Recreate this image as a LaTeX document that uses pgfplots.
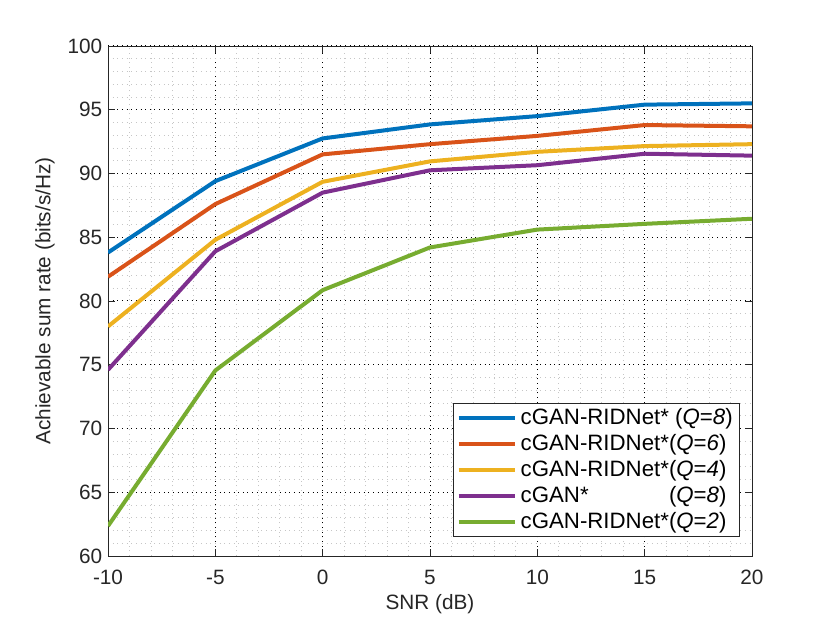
\documentclass[border=0pt]{standalone}
\usepackage{pgfplots}
\pgfplotsset{compat=1.18}
\usepackage{fontspec}
\setmainfont{Liberation Sans}
\definecolor{c1}{rgb}{0,0.447,0.741}
\definecolor{c2}{rgb}{0.850,0.325,0.098}
\definecolor{c3}{rgb}{0.929,0.694,0.125}
\definecolor{c4}{rgb}{0.494,0.184,0.556}
\definecolor{c5}{rgb}{0.466,0.674,0.188}
\definecolor{axgray}{rgb}{0.15,0.15,0.15}
\begin{document}
\begin{tikzpicture}
\path[use as bounding box] (0,0) rectangle (498bp,373.8bp);
\begin{axis}[
  at={(64.8bp,40.2bp)}, anchor=south west,
  scale only axis, width=386.4bp, height=306bp,
  xmin=-10, xmax=20, ymin=60, ymax=100,
  xtick={-10,-5,...,20}, ytick={60,65,...,100},
  minor x tick num=4, minor y tick num=4,
  grid=both,
  major grid style={black, line width=0.6pt, dash pattern=on 0.6pt off 2.2pt},
  minor grid style={gray!45, line width=0.5pt, dash pattern=on 0.6pt off 2.2pt},
  axis line style={axgray, line width=0.5pt},
  tick align=inside, major tick length=4bp, minor tick length=0pt,
  tick style={axgray, line width=0.5pt},
  xtick pos=both, ytick pos=both,
  /pgf/number format/assume math mode=true,
  tick label style={font=\fontsize{12.5}{14}\selectfont, text=axgray},
  xticklabel style={yshift=-5bp},
  label style={font=\fontsize{12.5}{14}\selectfont, text=axgray},
  xlabel={SNR (dB)},
  ylabel={Achievable sum rate (bits/s/Hz)},
  xlabel style={at={(axis description cs:0.5,-0.094)}, anchor=center},
  ylabel style={at={(axis description cs:-0.098,0.5)}, anchor=center},
  legend style={at={(0.981,0.037)}, anchor=south east,
    font=\fontsize{13.4}{15}\selectfont, draw=axgray, line width=0.5pt,
    inner xsep=2bp, inner ysep=1.2bp, row sep=0.5bp,
    cells={anchor=west}},
  legend image code/.code={\draw[#1, line width=2.4bp] (0bp,0bp) -- (34bp,0bp);},
  every axis plot/.append style={line width=2.4bp, line join=round},
]
\addplot[c1] coordinates {(-10,83.8) (-5,89.4) (0,92.75) (5,93.85) (10,94.5) (15,95.4) (20,95.5)};
\addlegendentry{cGAN-RIDNet* (\textit{Q}=\textit{8})}
\addplot[c2] coordinates {(-10,81.9) (-5,87.6) (0,91.5) (5,92.3) (10,92.95) (15,93.8) (20,93.7)};
\addlegendentry{cGAN-RIDNet*(\textit{Q}=\textit{6})}
\addplot[c3] coordinates {(-10,78.0) (-5,84.8) (0,89.35) (5,90.95) (10,91.7) (15,92.15) (20,92.3)};
\addlegendentry{cGAN-RIDNet*(\textit{Q}=\textit{4})}
\addplot[c4] coordinates {(-10,74.6) (-5,83.9) (0,88.5) (5,90.25) (10,90.65) (15,91.55) (20,91.4)};
\addlegendentry{\rlap{cGAN*}\phantom{cGAN-RIDNet*}(\textit{Q}=\textit{8})}
\addplot[c5] coordinates {(-10,62.35) (-5,74.55) (0,80.85) (5,84.2) (10,85.6) (15,86.05) (20,86.45)};
\addlegendentry{cGAN-RIDNet*(\textit{Q}=\textit{2})}
\end{axis}
\end{tikzpicture}
\end{document}
